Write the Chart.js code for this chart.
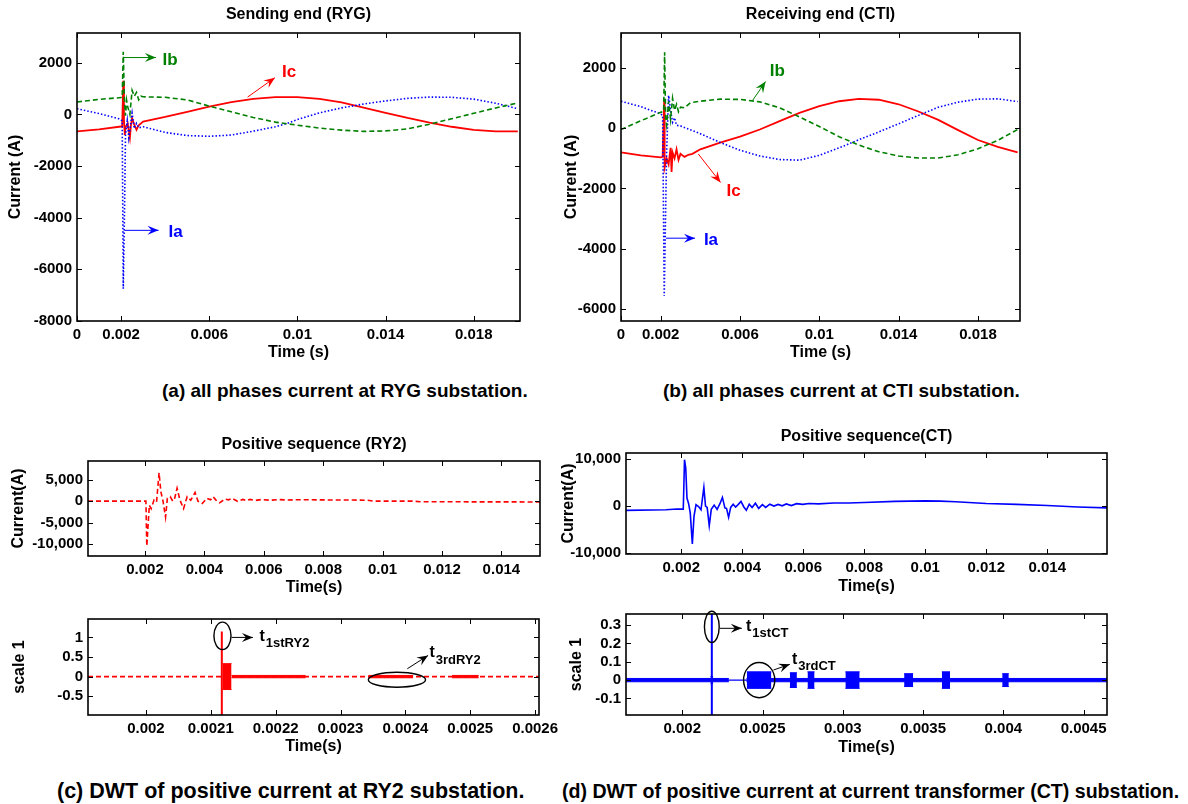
<!DOCTYPE html>
<html>
<head>
<meta charset="utf-8">
<script src="https://cdn.jsdelivr.net/npm/chart.js@4.4.1/dist/chart.umd.min.js"></script>
<style>
body { margin: 0; background: #fff; width: 1188px; height: 804px; position: relative; overflow: hidden;
       font-family: "Liberation Sans", Arial, sans-serif; }
canvas { position: absolute; }
.cap { position: absolute; font-size: 19px; font-weight: bold; white-space: nowrap; line-height: 22px; color: #000; }
</style>
</head>
<body>
<canvas id="chartA"></canvas>
<canvas id="chartB"></canvas>
<canvas id="chartC1"></canvas>
<canvas id="chartD1"></canvas>
<canvas id="chartC2"></canvas>
<canvas id="chartD2"></canvas>
<div class="cap" style="left:162px;top:380px">(a) all phases current at RYG substation.</div>
<div class="cap" style="left:663px;top:380px">(b) all phases current at CTI substation.</div>
<div class="cap" style="left:57px;top:780px;font-size:21.5px">(c) DWT of positive current at RY2 substation.</div>
<div class="cap" style="left:562px;top:780px;font-size:19.6px">(d) DWT of positive current at current transformer (CT) substation.</div>
<script>
// ---- (a) Sending end (RYG) ----
const tIaRYG = [0, 0.001, 0.0019, 0.00205, 0.0021, 0.00216, 0.0022, 0.00228, 0.00235, 0.0025, 0.0026, 0.0027, 0.0028, 0.003, 0.004, 0.005, 0.006, 0.007, 0.008, 0.009, 0.0095, 0.010, 0.011, 0.012, 0.013, 0.014, 0.015, 0.016, 0.017, 0.018, 0.019, 0.020];
const iaRYG = [220, 30, -170, -250, -6750, -3500, -800, -250, -900, 50, -550, -350, -520, -480, -700, -820, -850, -800, -650, -480, -360, -200, 60, 250, 400, 520, 620, 670, 660, 590, 430, 220];
const tIbRYG = [0, 0.001, 0.002, 0.00205, 0.0021, 0.00215, 0.0022, 0.00225, 0.0023, 0.0024, 0.0025, 0.0026, 0.0027, 0.0028, 0.0029, 0.003, 0.004, 0.005, 0.006, 0.007, 0.008, 0.009, 0.010, 0.011, 0.012, 0.013, 0.014, 0.015, 0.016, 0.017, 0.018, 0.019, 0.020];
const ibRYG = [480, 580, 650, 650, 2420, 600, -50, 550, 300, 0, 930, 700, 850, 560, 700, 680, 660, 560, 320, 100, -120, -300, -420, -530, -610, -660, -640, -560, -380, -170, 40, 250, 440];
const tIcRYG = [0, 0.001, 0.002, 0.00205, 0.0021, 0.00213, 0.00217, 0.0022, 0.0023, 0.0024, 0.00245, 0.0025, 0.0026, 0.0027, 0.0028, 0.003, 0.004, 0.005, 0.006, 0.007, 0.008, 0.009, 0.010, 0.011, 0.012, 0.013, 0.014, 0.015, 0.016, 0.017, 0.018, 0.019, 0.020];
const icRYG = [-660, -580, -470, -470, 1300, -200, -800, -500, -350, -900, -400, -150, -400, -600, -420, -280, -100, 100, 300, 470, 600, 670, 670, 600, 460, 260, 60, -140, -320, -480, -600, -660, -660];

// ---- (b) Receiving end (CTI) ----
const tIaCTI = [0, 0.001, 0.002, 0.0021, 0.00218, 0.0023, 0.0024, 0.0025, 0.0026, 0.0027, 0.0028, 0.003, 0.004, 0.005, 0.006, 0.007, 0.008, 0.009, 0.010, 0.011, 0.012, 0.013, 0.014, 0.015, 0.016, 0.017, 0.018, 0.019, 0.020];
const iaCTI = [900, 720, 480, 420, -5580, -800, 1090, 600, 200, 350, 100, 80, -180, -470, -730, -920, -1040, -1060, -900, -650, -380, -120, 150, 430, 700, 870, 970, 980, 890];
const tIbCTI = [0, 0.001, 0.002, 0.00215, 0.0022, 0.00225, 0.0023, 0.0024, 0.0025, 0.0026, 0.0027, 0.0028, 0.0029, 0.003, 0.0032, 0.0035, 0.004, 0.005, 0.006, 0.007, 0.008, 0.009, 0.010, 0.011, 0.012, 0.013, 0.014, 0.015, 0.016, 0.017, 0.018, 0.019, 0.020];
const ibCTI = [-40, 250, 530, 560, 2530, 300, 100, 900, 300, 1000, 600, 800, 550, 700, 680, 850, 900, 970, 960, 880, 680, 380, 60, -280, -560, -780, -920, -990, -990, -880, -680, -400, -40];
const tIcCTI = [0, 0.001, 0.002, 0.0021, 0.00218, 0.0022, 0.0023, 0.0024, 0.0025, 0.00255, 0.0026, 0.0027, 0.0028, 0.0029, 0.003, 0.0032, 0.0034, 0.0036, 0.004, 0.005, 0.006, 0.007, 0.008, 0.009, 0.010, 0.011, 0.012, 0.013, 0.014, 0.015, 0.016, 0.017, 0.018, 0.019, 0.020];
const icCTI = [-800, -900, -970, -950, 980, -1300, -1000, -1200, -650, -1450, -800, -1000, -700, -1050, -850, -950, -880, -850, -700, -480, -280, -40, 240, 510, 740, 900, 980, 950, 800, 560, 280, -60, -390, -620, -800];

const timeTicks20 = [0, 0.002, 0.006, 0.01, 0.014, 0.018];
const timeLabels20 = ['0', '0.002', '0.006', '0.01', '0.014', '0.018'];
const ampTicksRYG = [2000, 0, -2000, -4000, -6000, -8000];
const ampLabelsRYG = ['2000', '0', '-2000', '-4000', '-6000', '-8000'];
const ampTicksCTI = [2000, 0, -2000, -4000, -6000];
const ampLabelsCTI = ['2000', '0', '-2000', '-4000', '-6000'];

// ---- (c) positive sequence RY2 ----
const tPosRY2 = [0.00008, 0.0019, 0.00203, 0.00206, 0.002145, 0.002206, 0.002303, 0.002388, 0.002473, 0.002533, 0.002606, 0.002691, 0.002752, 0.002848, 0.002933, 0.002994, 0.003079, 0.003176, 0.003297, 0.003418, 0.003539, 0.003685, 0.003782, 0.003927, 0.004085, 0.004206, 0.004291, 0.004388, 0.004509, 0.004691, 0.004812, 0.004933, 0.005115, 0.005297, 0.005418, 0.005539, 0.00572, 0.0059, 0.0062, 0.0065, 0.0068, 0.007, 0.0075, 0.008, 0.0085, 0.009, 0.0095, 0.0097, 0.011, 0.0113, 0.0153];
const posRY2 = [0, 0, 0, -10480, -950, -1750, 240, -200, 6590, 2200, 0, -3730, 640, 1030, 0, 500, 3000, 240, -1750, 1030, 200, 2000, 0, -550, 640, 300, 1030, 240, -400, 480, 300, 640, -50, 400, 100, 400, 150, 350, 200, 350, 250, 300, 320, 280, 250, 250, 200, 0, 0, -150, -200];
const seqTimeTicks = [0.002, 0.004, 0.006, 0.008, 0.01, 0.012, 0.014];
const seqTimeLabels = ['0.002', '0.004', '0.006', '0.008', '0.01', '0.012', '0.014'];
const posTicksRY2 = [5000, 0, -5000, -10000];
const posLabelsRY2 = ['5,000', '0', '-5,000', '-10,000'];

// ---- (d) positive sequence CT ----
const tPosCT = [0.00019, 0.0015, 0.00186, 0.002068, 0.002108, 0.002149, 0.002189, 0.002243, 0.002297, 0.002365, 0.002419, 0.002486, 0.002568, 0.002649, 0.002743, 0.002797, 0.002851, 0.002919, 0.002986, 0.003081, 0.003176, 0.00327, 0.003351, 0.003432, 0.003486, 0.003554, 0.003622, 0.003703, 0.003784, 0.003865, 0.00396, 0.004054, 0.004135, 0.00423, 0.004324, 0.004432, 0.00454, 0.004662, 0.00477, 0.004905, 0.00504, 0.005176, 0.005311, 0.005446, 0.005608, 0.005784, 0.005986, 0.006189, 0.0065, 0.007, 0.0075, 0.008, 0.009, 0.01, 0.0105, 0.011, 0.012, 0.013, 0.014, 0.015, 0.01596];
const posCT = [-920, -800, -640, -650, 9860, 8080, 1700, 500, -1500, -8080, -2200, 280, -100, -800, 3970, 0, -300, -4180, -700, 200, -700, 500, 1840, -400, -500, -2410, -300, 400, -200, 300, 990, -200, -900, 400, -300, 600, -500, 300, -300, 400, 0, 350, 50, 450, 100, 500, 350, 550, 450, 650, 650, 750, 1000, 1100, 1050, 900, 550, 350, 100, -200, -400];
const posTicksCT = [10000, 0, -10000];
const posLabelsCT = ['10,000', '0', '-10,000'];

// ---- (c) DWT scale 1, RY2 ----
const tSpikeRY2 = [0.002117, 0.002117];
const spikeRY2 = [1.15, -1.0];
const burstStartRY2 = [0.002118, 0.002132, 0.002343, 0.002472];
const burstEndRY2 = [0.002132, 0.002246, 0.002412, 0.002513];
const burstAmpRY2 = [0.33, 0.03, 0.03, 0.03];
const dwtTimeTicksRY2 = [0.002, 0.0021, 0.0022, 0.0023, 0.0024, 0.0025, 0.0026];
const dwtTimeLabelsRY2 = ['0.002', '0.0021', '0.0022', '0.0023', '0.0024', '0.0025', '0.0026'];
const dwtTicksRY2 = [1, 0.5, 0, -0.5];
const dwtLabelsRY2 = ['1', '0.5', '0', '-0.5'];

// ---- (d) DWT scale 1, CT ----
const tSpikeCT = [0.002184, 0.002184];
const spikeCT = [0.37, -0.2];
const burstStartCT = [0.00165, 0.0024, 0.002176, 0.002402, 0.00267, 0.00278, 0.003016, 0.003382, 0.003617, 0.003993];
const burstEndCT = [0.00229, 0.004646, 0.002192, 0.002555, 0.002714, 0.002824, 0.003105, 0.003438, 0.003668, 0.004034];
const burstAmpCT = [0.009, 0.009, 0.02, 0.045, 0.04, 0.045, 0.045, 0.035, 0.045, 0.035];
const dwtTimeTicksCT = [0.002, 0.0025, 0.003, 0.0035, 0.004, 0.0045];
const dwtTimeLabelsCT = ['0.002', '0.0025', '0.003', '0.0035', '0.004', '0.0045'];
const dwtTicksCT = [0.3, 0.2, 0.1, 0, -0.1];
const dwtLabelsCT = ['0.3', '0.2', '0.1', '0', '-0.1'];

const RED = '#ff0000', GREEN = '#008000', BLUE = '#0000ff';
const FONT = '"Liberation Sans", Arial, sans-serif';

function pts(ts, vs) {
    return ts.map((t, i) => ({ x: t, y: vs[i] }));
}

function line(ts, vs, color, width, dash) {
    return { data: pts(ts, vs), borderColor: color, borderWidth: width, borderDash: dash || [],
             pointRadius: 0, fill: false, tension: 0 };
}

// each burst is drawn as a filled band between +amp and -amp
function bands(starts, ends, amps, color) {
    const out = [];
    starts.forEach((s, i) => {
        out.push({ data: [{ x: s, y: amps[i] }, { x: ends[i], y: amps[i] }], borderColor: color,
                   borderWidth: 1, backgroundColor: color, fill: '+1', pointRadius: 0 });
        out.push({ data: [{ x: s, y: -amps[i] }, { x: ends[i], y: -amps[i] }], borderColor: color,
                   borderWidth: 1, fill: false, pointRadius: 0 });
    });
    return out;
}

// frame, inward tick marks, panel title and annotations
function framePlugin(cfg) {
    return {
        id: 'frame',
        afterDatasetsDraw(chart) {
            const ctx = chart.ctx, a = chart.chartArea, x = chart.scales.x, y = chart.scales.y;
            ctx.save();
            ctx.strokeStyle = '#000';
            ctx.lineWidth = 1;
            x.ticks.forEach(t => {
                const p = Math.round(x.getPixelForValue(t.value)) + 0.5;
                ctx.beginPath();
                ctx.moveTo(p, a.bottom); ctx.lineTo(p, a.bottom - 5);
                ctx.moveTo(p, a.top); ctx.lineTo(p, a.top + 5);
                ctx.stroke();
            });
            y.ticks.forEach(t => {
                const p = Math.round(y.getPixelForValue(t.value)) + 0.5;
                ctx.beginPath();
                ctx.moveTo(a.left, p); ctx.lineTo(a.left + 5, p);
                ctx.moveTo(a.right, p); ctx.lineTo(a.right - 5, p);
                ctx.stroke();
            });
            ctx.lineWidth = 1.6;
            ctx.strokeRect(a.left, a.top, a.right - a.left, a.bottom - a.top);

            ctx.fillStyle = '#000';
            ctx.font = 'bold 16px ' + FONT;
            ctx.textAlign = 'center';
            ctx.textBaseline = 'middle';
            ctx.fillText(cfg.title, (a.left + a.right) / 2, a.top - cfg.titleGap);

            (cfg.ellipses || []).forEach(e => {
                const cx = x.getPixelForValue(e.t), cy = y.getPixelForValue(e.v);
                const rx = Math.abs(x.getPixelForValue(e.t + e.dt) - cx);
                const ry = Math.abs(y.getPixelForValue(e.v + e.dv) - cy);
                ctx.beginPath();
                ctx.lineWidth = 1.4;
                ctx.strokeStyle = '#000';
                ctx.ellipse(cx, cy, rx, ry, 0, 0, Math.PI * 2);
                ctx.stroke();
            });
            (cfg.arrows || []).forEach(r => {
                const x0 = x.getPixelForValue(r.from[0]), y0 = y.getPixelForValue(r.from[1]);
                const x1 = x.getPixelForValue(r.to[0]), y1 = y.getPixelForValue(r.to[1]);
                const ang = Math.atan2(y1 - y0, x1 - x0);
                ctx.strokeStyle = r.color;
                ctx.fillStyle = r.color;
                ctx.lineWidth = 1;
                ctx.beginPath();
                ctx.moveTo(x0, y0); ctx.lineTo(x1, y1);
                ctx.stroke();
                ctx.beginPath();
                ctx.moveTo(x1, y1);
                ctx.lineTo(x1 - 11 * Math.cos(ang) + 4.5 * Math.sin(ang), y1 - 11 * Math.sin(ang) - 4.5 * Math.cos(ang));
                ctx.lineTo(x1 - 7 * Math.cos(ang), y1 - 7 * Math.sin(ang));
                ctx.lineTo(x1 - 11 * Math.cos(ang) - 4.5 * Math.sin(ang), y1 - 11 * Math.sin(ang) + 4.5 * Math.cos(ang));
                ctx.closePath();
                ctx.fill();
            });
            (cfg.labels || []).forEach(l => {
                const px = x.getPixelForValue(l.t), py = y.getPixelForValue(l.v);
                ctx.fillStyle = l.color;
                ctx.textAlign = 'left';
                ctx.textBaseline = 'middle';
                ctx.font = 'bold ' + l.size + 'px ' + FONT;
                ctx.fillText(l.text, px, py);
                if (l.sub) {
                    const w = ctx.measureText(l.text).width;
                    ctx.font = 'bold 13px ' + FONT;
                    ctx.fillText(l.sub, px + w + 1, py + 7);
                }
            });
            ctx.restore();
        }
    };
}

function axis(min, max, ticks, labels, title, size) {
    return {
        type: 'linear', min: min, max: max,
        afterBuildTicks: s => { s.ticks = ticks.map(v => ({ value: v })); },
        afterFit: s => { if (s.isHorizontal()) s.height = size; else s.width = size; },
        ticks: { callback: (v, i) => labels[i], autoSkip: false, maxRotation: 0, padding: 5,
                 color: '#000', font: { family: FONT, size: 15, weight: 'bold' } },
        grid: { display: false, drawTicks: false },
        border: { display: false },
        title: { display: true, text: title, color: '#000', padding: 0,
                 font: { family: FONT, size: 16, weight: 'bold' } }
    };
}

// area: plot frame in page pixels; yTitleX / xTitleY: centres of the axis titles
function panel(id, p) {
    const cv = document.getElementById(id);
    const bx = Math.round(p.yTitleX - 9.6), by = p.top;
    const bw = p.right - bx, bh = Math.round(p.xTitleY + 9.6) - by;
    cv.width = bw; cv.height = bh;
    cv.style.left = bx + 'px'; cv.style.top = by + 'px';
    cv.style.width = bw + 'px'; cv.style.height = bh + 'px';
    new Chart(cv, {
        type: 'line',
        data: { datasets: p.datasets },
        options: {
            responsive: false, animation: false,
            layout: { padding: { left: 0, top: p.area.t - by, right: bx + bw - p.area.r, bottom: 0 } },
            scales: {
                x: axis(p.xMin, p.xMax, p.xTicks, p.xLabels, p.xTitle, by + bh - p.area.b),
                y: axis(p.yMin, p.yMax, p.yTicks, p.yLabels, p.yTitle, p.area.l - bx)
            },
            plugins: { legend: { display: false }, tooltip: { enabled: false } }
        },
        plugins: [framePlugin(p.frame)]
    });
}

panel('chartA', {
    top: 0, right: 535, yTitleX: 16, xTitleY: 352,
    area: { l: 77, t: 33, r: 520, b: 321 },
    xMin: 0, xMax: 0.0201, yMin: -8000, yMax: 3150,
    xTicks: timeTicks20, xLabels: timeLabels20, xTitle: 'Time (s)',
    yTicks: ampTicksRYG, yLabels: ampLabelsRYG, yTitle: 'Current (A)',
    datasets: [
        line(tIbRYG, ibRYG, GREEN, 1.6, [5, 3]),
        line(tIaRYG, iaRYG, BLUE, 1.6, [1.5, 2]),
        line(tIcRYG, icRYG, RED, 1.8)
    ],
    frame: {
        title: 'Sending end (RYG)', titleGap: 18,
        arrows: [
            { from: [0.0021, 2200], to: [0.00358, 2200], color: GREEN },
            { from: [0.00216, -4490], to: [0.0037, -4490], color: BLUE },
            { from: [0.00774, 670], to: [0.00898, 1420], color: RED }
        ],
        labels: [
            { t: 0.00388, v: 2100, text: 'Ib', color: GREEN, size: 17 },
            { t: 0.00415, v: -4560, text: 'Ia', color: BLUE, size: 17 },
            { t: 0.0093, v: 1620, text: 'Ic', color: RED, size: 17 }
        ]
    }
});

panel('chartB', {
    top: 0, right: 1040, yTitleX: 572, xTitleY: 352,
    area: { l: 621, t: 33, r: 1020, b: 321 },
    xMin: 0, xMax: 0.02012, yMin: -6410, yMax: 3170,
    xTicks: timeTicks20, xLabels: timeLabels20, xTitle: 'Time (s)',
    yTicks: ampTicksCTI, yLabels: ampLabelsCTI, yTitle: 'Current (A)',
    datasets: [
        line(tIbCTI, ibCTI, GREEN, 1.6, [5, 3]),
        line(tIaCTI, iaCTI, BLUE, 1.6, [1.5, 2]),
        line(tIcCTI, icCTI, RED, 1.8)
    ],
    frame: {
        title: 'Receiving end (CTI)', titleGap: 18,
        arrows: [
            { from: [0.00663, 922], to: [0.00729, 1555], color: GREEN },
            { from: [0.0039, -855], to: [0.00502, -1800], color: RED },
            { from: [0.00227, -3655], to: [0.00373, -3655], color: BLUE }
        ],
        labels: [
            { t: 0.0075, v: 1890, text: 'Ib', color: GREEN, size: 17 },
            { t: 0.00532, v: -2100, text: 'Ic', color: RED, size: 17 },
            { t: 0.00418, v: -3720, text: 'Ia', color: BLUE, size: 17 }
        ]
    }
});

panel('chartC1', {
    top: 425, right: 575, yTitleX: 19, xTitleY: 587,
    area: { l: 88, t: 461, r: 540, b: 556 },
    xMin: 0.00008, xMax: 0.0153, yMin: -12800, yMax: 9350,
    xTicks: seqTimeTicks, xLabels: seqTimeLabels, xTitle: 'Time(s)',
    yTicks: posTicksRY2, yLabels: posLabelsRY2, yTitle: 'Current(A)',
    datasets: [line(tPosRY2, posRY2, RED, 1.6, [5, 3])],
    frame: { title: 'Positive sequence (RY2)', titleGap: 16 }
});

panel('chartD1', {
    top: 418, right: 1135, yTitleX: 569, xTitleY: 586,
    area: { l: 626, t: 453, r: 1107, b: 554 },
    xMin: 0.00019, xMax: 0.01596, yMin: -10200, yMax: 11280,
    xTicks: seqTimeTicks, xLabels: seqTimeLabels, xTitle: 'Time(s)',
    yTicks: posTicksCT, yLabels: posLabelsCT, yTitle: 'Current(A)',
    datasets: [line(tPosCT, posCT, BLUE, 1.6)],
    frame: { title: 'Positive sequence(CT)', titleGap: 16 }
});

panel('chartC2', {
    top: 600, right: 580, yTitleX: 20, xTitleY: 746,
    area: { l: 88, t: 619, r: 539, b: 715 },
    xMin: 0.0019107, xMax: 0.002606, yMin: -0.98, yMax: 1.47,
    xTicks: dwtTimeTicksRY2, xLabels: dwtTimeLabelsRY2, xTitle: 'Time(s)',
    yTicks: dwtTicksRY2, yLabels: dwtLabelsRY2, yTitle: 'scale 1',
    datasets: [
        line([0.0019107, 0.002606], [0, 0], RED, 1.6, [5, 3]),
        line(tSpikeRY2, spikeRY2, RED, 2)
    ].concat(bands(burstStartRY2, burstEndRY2, burstAmpRY2, RED)),
    frame: {
        title: '', titleGap: 0,
        ellipses: [
            { t: 0.002118, v: 1.04, dt: 0.0000132, dv: 0.35 },
            { t: 0.002387, v: -0.08, dt: 0.0000441, dv: 0.19 }
        ],
        arrows: [
            { from: [0.002132, 1.0], to: [0.002165, 1.0], color: '#000' },
            { from: [0.002403, 0.2], to: [0.002435, 0.54], color: '#000' }
        ],
        labels: [
            { t: 0.002175, v: 1.03, text: 't', sub: '1stRY2', color: '#000', size: 16 },
            { t: 0.002437, v: 0.6, text: 't', sub: '3rdRY2', color: '#000', size: 16 }
        ]
    }
});

panel('chartD2', {
    top: 596, right: 1150, yTitleX: 577, xTitleY: 747,
    area: { l: 626, t: 614, r: 1107, b: 715 },
    xMin: 0.0016494, xMax: 0.0046458, yMin: -0.19, yMax: 0.36,
    xTicks: dwtTimeTicksCT, xLabels: dwtTimeLabelsCT, xTitle: 'Time(s)',
    yTicks: dwtTicksCT, yLabels: dwtLabelsCT, yTitle: 'scale 1',
    datasets: [
        line([0.0016494, 0.0046458], [0, 0], BLUE, 1.2),
        line(tSpikeCT, spikeCT, BLUE, 2)
    ].concat(bands(burstStartCT, burstEndCT, burstAmpCT, BLUE)),
    frame: {
        title: '', titleGap: 0,
        ellipses: [
            { t: 0.002184, v: 0.29, dt: 0.000046, dv: 0.085 },
            { t: 0.002479, v: 0, dt: 0.0000972, dv: 0.096 }
        ],
        arrows: [
            { from: [0.002235, 0.282], to: [0.002371, 0.282], color: '#000' },
            { from: [0.002568, 0.055], to: [0.00267, 0.086], color: '#000' }
        ],
        labels: [
            { t: 0.002397, v: 0.292, text: 't', sub: '1stCT', color: '#000', size: 16 },
            { t: 0.002683, v: 0.112, text: 't', sub: '3rdCT', color: '#000', size: 16 }
        ]
    }
});
</script>
</body>
</html>
